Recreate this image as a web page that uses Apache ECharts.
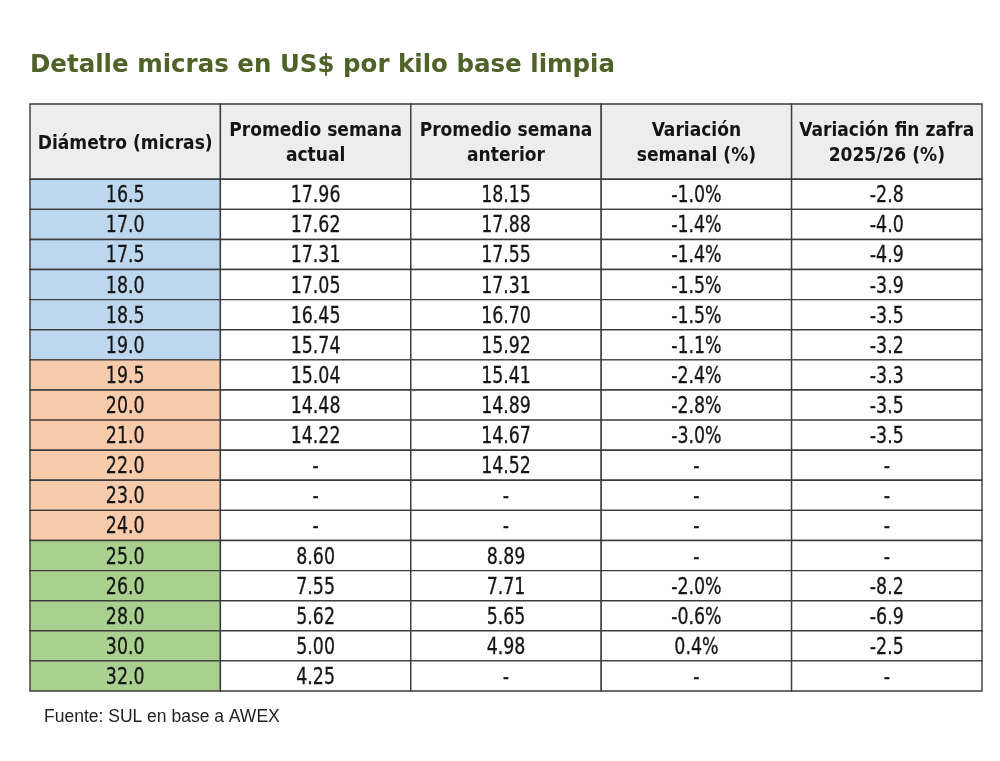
<!DOCTYPE html>
<html>
<head>
<meta charset="utf-8">
<script src="https://cdn.jsdelivr.net/npm/echarts@6/dist/echarts.min.js"></script>
<style>
    html, body { margin: 0; padding: 0; background: #fff; }
    #main { width: 1000px; height: 761px; }
</style>
</head>
<body>
<div id="main"></div>
<script type="text/javascript">
    // datos de la tabla (null = "-")
    var encabezados = ['Diámetro (micras)', 'Promedio semana\nactual', 'Promedio semana\nanterior', 'Variación\nsemanal (%)', 'Variación fin zafra\n2025/26 (%)'];
    var diametros = ['16.5', '17.0', '17.5', '18.0', '18.5', '19.0', '19.5', '20.0', '21.0', '22.0', '23.0', '24.0', '25.0', '26.0', '28.0', '30.0', '32.0'];
    var grupos = ['fina', 'fina', 'fina', 'fina', 'fina', 'fina', 'media', 'media', 'media', 'media', 'media', 'media', 'gruesa', 'gruesa', 'gruesa', 'gruesa', 'gruesa'];
    var promedioActual = [17.96, 17.62, 17.31, 17.05, 16.45, 15.74, 15.04, 14.48, 14.22, null, null, null, 8.60, 7.55, 5.62, 5.00, 4.25];
    var promedioAnterior = [18.15, 17.88, 17.55, 17.31, 16.70, 15.92, 15.41, 14.89, 14.67, 14.52, null, null, 8.89, 7.71, 5.65, 4.98, null];
    var variacionSemanal = [-1.0, -1.4, -1.4, -1.5, -1.5, -1.1, -2.4, -2.8, -3.0, null, null, null, null, -2.0, -0.6, 0.4, null];
    var variacionZafra = [-2.8, -4.0, -4.9, -3.9, -3.5, -3.2, -3.3, -3.5, -3.5, null, null, null, null, -8.2, -6.9, -2.5, null];

    var coloresGrupo = { fina: '#BDD7EE', media: '#F8CBAD', gruesa: '#A9D08E' };
    var ALTO_ENC = 2.5; // alto del encabezado en filas

    function fmt(v, dec, suf) {
        if (v === null) return '-';
        return v.toFixed(dec) + (suf || '');
    }

    // armar celdas
    var celdas = [];
    encabezados.forEach(function (t, c) {
        celdas.push({ col: c, y0: 0, y1: ALTO_ENC, text: t, fill: '#EDEDED', head: true });
    });
    diametros.forEach(function (d, i) {
        var y0 = ALTO_ENC + i, y1 = y0 + 1;
        var fila = [d, fmt(promedioActual[i], 2), fmt(promedioAnterior[i], 2), fmt(variacionSemanal[i], 1, '%'), fmt(variacionZafra[i], 1)];
        fila.forEach(function (t, c) {
            celdas.push({ col: c, y0: y0, y1: y1, text: t, fill: c === 0 ? coloresGrupo[grupos[i]] : '#FFFFFF', head: false });
        });
    });

    var fuenteTabla = "'DejaVu Sans Condensed', 'DejaVu Sans', sans-serif";

    var myChart = echarts.init(document.getElementById('main'));
    var option = {
        animation: false,
        title: {
            text: 'Detalle micras en US$ por kilo base limpia',
            left: 25,
            top: 48,
            textStyle: {
                fontFamily: 'DejaVu Sans',
                fontWeight: 'bold',
                fontSize: 24.5,
                color: '#4F6228'
            }
        },
        grid: { left: 30, right: 18, top: 104, bottom: 70 },
        xAxis: { type: 'value', min: 0, max: 5, show: false, splitLine: { show: false } },
        yAxis: { type: 'value', min: 0, max: ALTO_ENC + diametros.length, inverse: true, show: false, splitLine: { show: false } },
        graphic: [{
            type: 'text',
            x: 44,
            y: 717,
            style: {
                text: 'Fuente: SUL en base a AWEX',
                font: "17.5px 'Liberation Sans', Arial, sans-serif",
                verticalAlign: 'middle',
                fill: '#222'
            }
        }],
        series: [{
            type: 'custom',
            coordinateSystem: 'cartesian2d',
            data: celdas.map(function (c) { return [c.col, c.y0, c.y1]; }),
            renderItem: function (params, api) {
                var c = celdas[params.dataIndex];
                var p0 = api.coord([c.col, c.y0]);
                var p1 = api.coord([c.col + 1, c.y1]);
                return {
                    type: 'group',
                    children: [{
                        type: 'rect',
                        shape: { x: p0[0], y: p0[1], width: p1[0] - p0[0], height: p1[1] - p0[1] },
                        style: { fill: c.fill, stroke: '#3C3C3C', lineWidth: 1.4 }
                    }, {
                        type: 'text',
                        x: (p0[0] + p1[0]) / 2,
                        y: (p0[1] + p1[1]) / 2 + 2,
                        scaleX: c.head ? 1 : 0.84,
                        style: {
                            text: c.text,
                            align: 'center',
                            verticalAlign: 'middle',
                            font: (c.head ? 'bold 19px ' : '23px ') + fuenteTabla,
                            lineHeight: 25,
                            fill: '#151515',
                            stroke: c.head ? null : '#151515',
                            lineWidth: c.head ? 0 : 0.3
                        }
                    }]
                };
            }
        }]
    };
    myChart.setOption(option);
</script>
</body>
</html>
